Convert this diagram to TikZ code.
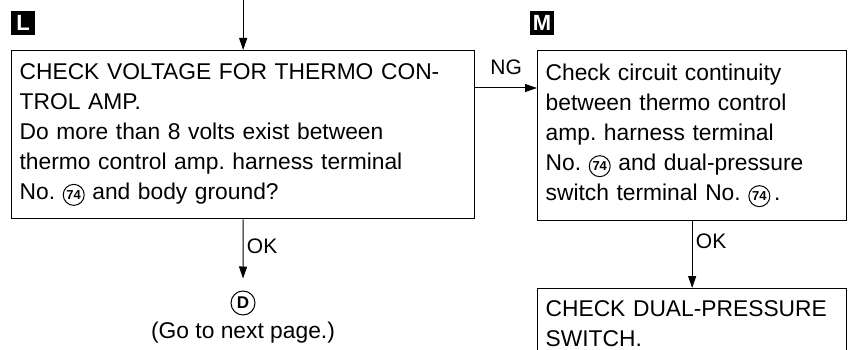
\documentclass[tikz,border=0pt]{standalone}
\usepackage{fontspec}
\setmainfont{Liberation Sans}
\usetikzlibrary{arrows.meta, positioning}
\frenchspacing

% numero num circulo
\newcommand{\numcirc}[1]{\tikz[baseline=(nc.base)]\node[draw, circle, line width=1pt, inner sep=0pt, minimum size=21pt, font=\fontsize{13}{13}\selectfont\bfseries] (nc) {#1};}

\begin{document}
\begin{tikzpicture}[
    x=1pt, y=-1pt,
    quadro/.style={
        draw,
        line width=1.3pt,
        anchor=north west,
        align=left,
        inner xsep=8pt,
        font=\fontsize{22.8}{30}\selectfont
    },
    seta/.style={
        -{Triangle[length=12pt, width=8pt]},
        line width=1pt
    },
    marca/.style={
        fill=black,
        text=white,
        minimum size=24pt,
        inner sep=0pt,
        font=\fontsize{22}{22}\selectfont\bfseries
    },
    rotulo/.style={font=\fontsize{21}{21}\selectfont}
]
\useasboundingbox (0,0) rectangle (851,350);
\clip (0,0) rectangle (851,350);

% Marcas
\node[marca] (marcaL) at (23,23) {L};
\node[marca] (marcaM) at (542,23) {M};

% Tensao do amplificador
\node[quadro, text width=447pt, minimum height=168pt] (tensao) at (11,50)
{
    CHECK VOLTAGE FOR THERMO CON-\\
    TROL AMP.\\
    Do more than 8 volts exist between\\
    thermo control amp. harness terminal\\
    No. \numcirc{74} and body ground?
};

% Continuidade do circuito
\node[quadro, text width=293pt, minimum height=170pt] (continuidade) at (537,50)
{
    Check circuit continuity\\
    between thermo control\\
    amp. harness terminal\\
    No. \numcirc{74} and dual-pressure\\
    switch terminal No. \numcirc{74}\,.
};

% Pressostato
\node[quadro, text width=293pt, minimum height=70pt] (pressostato) at (537,288)
{
    CHECK DUAL-PRESSURE\\
    SWITCH.
};

% Proxima pagina
\node[draw, circle, line width=1pt, inner sep=0pt, minimum size=24pt, font=\fontsize{17}{17}\selectfont\bfseries] (pagD) at (243,303) {D};
\node[font=\fontsize{22.8}{30}\selectfont] (proxima) at (243,333) {(Go to next page.)};

% Setas
\coordinate (entrada) at (tensao.north |- 0,0);
\draw[seta] (entrada) -- (tensao.north);
\draw[seta] ([yshift=-38pt]tensao.north east) -- node[rotulo, above=9pt]{NG} ([yshift=-38pt]continuidade.north west);
\draw[seta, shorten >=12pt] (tensao.south) -- node[rotulo, right, pos=0.38]{OK} (pagD);
\draw[seta] (continuidade.south) -- node[rotulo, right, pos=0.3]{OK} (pressostato.north);

\end{tikzpicture}
\end{document}
